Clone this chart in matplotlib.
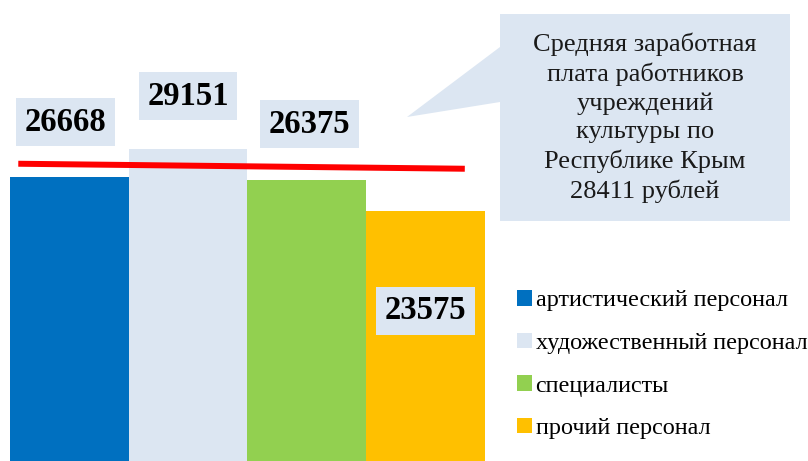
import matplotlib
matplotlib.use("Agg")
import matplotlib.pyplot as plt
from matplotlib.patches import Patch, Polygon

categories = ["артистический персонал", "художественный персонал", "специалисты", "прочий персонал"]
values = [26668, 29151, 26375, 23575]
colors = ["#0070C0", "#DCE6F2", "#92D050", "#FFC000"]
label_offsets_pt = [39, 38, 40, -72]   # vertical offset of value labels (points)
label_dx_pt = [-3, 0, 2, 0]
avg_line_x = [-0.43, 3.33]
avg_line_y = [27820, 27370]
callout_text = "Средняя заработная\nплата работников\nучреждений\nкультуры по\nРеспублике Крым\n28411 рублей"

W, H = 808, 461
fig = plt.figure(figsize=(W / 100, H / 100), dpi=100)
ax = fig.add_axes([0, 0, 1, 1])
ax.set_xlim(-0.584, 6.22)
ax.set_ylim(1080, 42550)
ax.axis("off")

x = list(range(len(values)))
bars = ax.bar(x, values, width=1.0, color=colors, edgecolor="none")

for xi, v, off, dx in zip(x, values, label_offsets_pt, label_dx_pt):
    ax.annotate(f"{v}", xy=(xi, v), xytext=(dx, off), textcoords="offset points",
                ha="center", va="center", fontsize=23.5, fontweight="bold",
                family="Liberation Serif", color="black",
                bbox=dict(boxstyle="square,pad=0.26", fc="#DCE6F2", ec="none"))

ax.plot(avg_line_x, avg_line_y, color="#FF0000", lw=4.3, solid_capstyle="butt")

# callout (pixel coords -> figure fraction)
def f(px, py):
    return (px / W, 1 - py / H)

poly = [f(500, 14), f(790, 14), f(790, 221), f(500, 221), f(500, 102), f(407, 117), f(500, 47)]
fig.patches.append(Polygon(poly, closed=True, transform=fig.transFigure,
                           fc="#DCE6F2", ec="none"))
tx, ty = f(645, 118)
fig.text(tx, ty, callout_text, ha="center", va="center", fontsize=19,
         family="Liberation Serif", color="#1a1a1a", linespacing=1.36)

handles = [Patch(facecolor=c, edgecolor="none") for c in colors]
leg = ax.legend(handles, categories, loc="upper left", bbox_to_anchor=f(517, 290),
                bbox_transform=fig.transFigure, frameon=False,
                prop={"family": "Liberation Serif", "size": 17.4},
                handlelength=0.62, handleheight=0.62, handletextpad=0.15,
                labelspacing=0.88, borderpad=0, borderaxespad=0)

fig.savefig("out.png", dpi=100)
